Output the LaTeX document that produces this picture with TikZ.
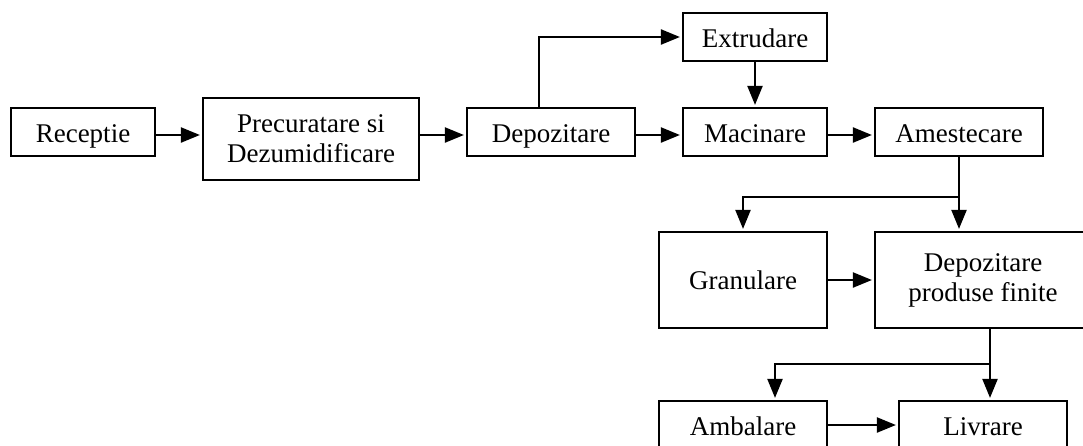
\documentclass[tikz,border=0pt]{standalone}
\usepackage{fontspec}
\setmainfont{Liberation Serif}
\usetikzlibrary{arrows.meta,calc}
\begin{document}
\begin{tikzpicture}[x=1pt,y=-1pt,
  box/.style={draw,line width=2.2pt,inner sep=0pt,font=\fontsize{27}{30}\selectfont,align=center},
  one/.style={text height=20pt,text depth=0pt},
  arr/.style={line width=2.2pt,-{Triangle[length=19pt,width=15pt]},shorten >=2pt}]
\useasboundingbox (0,0) rectangle (1083,445);
\node[box,one,minimum width=144pt,minimum height=48pt] (rec) at (83,132) {Receptie};
\node[box,minimum width=216pt,minimum height=82pt] (pre) at (311,139) {Precuratare si\\Dezumidificare};
\node[box,one,minimum width=168pt,minimum height=48pt] (dep) at (551,132) {Depozitare};
\node[box,one,minimum width=144pt,minimum height=48pt] (ext) at (755,37) {Extrudare};
\node[box,one,minimum width=144pt,minimum height=48pt] (mac) at (755,132) {Macinare};
\node[box,one,minimum width=168pt,minimum height=48pt] (ame) at (959,132) {Amestecare};
\node[box,minimum width=168pt,minimum height=96pt] (gra) at (743,280) {Granulare};
\node[box,minimum width=216pt,minimum height=96pt] (dpf) at (983,280) {Depozitare\\produse finite};
\node[box,one,minimum width=168pt,minimum height=48pt] (amb) at (743,425) {Ambalare};
\node[box,one,minimum width=168pt,minimum height=48pt] (liv) at (983,425) {Livrare};
\coordinate (r1) at ([yshift=-3pt]rec.east);
\coordinate (d1) at ([yshift=-3pt]dep.west);
\coordinate (d2) at ([yshift=-3pt]dep.east);
\coordinate (m1) at ([yshift=-3pt]mac.east);
\coordinate (dn) at ([xshift=-12pt]dep.north);
\coordinate (j1) at ($(ame.south)+(0,40)$);
\coordinate (ds) at ([xshift=7pt]dpf.south);
\coordinate (j2) at ($(ds)+(0,35)$);
\coordinate (an) at ([xshift=32pt]amb.north);
\draw[arr] (r1) -- (r1 -| pre.west);
\draw[arr] (d1 -| pre.east) -- (d1);
\draw[arr] (d2) -- (d2 -| mac.west);
\draw[arr] (dn) |- (ext.west);
\draw[arr] (ext.south) -- (mac.north);
\draw[arr] (m1) -- (m1 -| ame.west);
\draw[arr] (ame.south) -- (ame.south |- dpf.north);
\draw[arr] (j1) -| (gra.north);
\draw[arr] (gra.east) -- (dpf.west);
\draw[arr] (ds) -- (ds |- liv.north);
\draw[arr] (j2) -| (an);
\draw[arr] (amb.east) -- (liv.west);
\end{tikzpicture}
\end{document}
